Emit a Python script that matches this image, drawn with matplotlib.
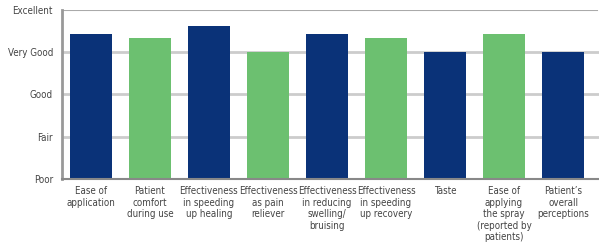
import matplotlib
matplotlib.use("Agg")
import matplotlib.pyplot as plt
from matplotlib import font_manager

categories = [
    "Ease of\napplication",
    "Patient\ncomfort\nduring use",
    "Effectiveness\nin speeding\nup healing",
    "Effectiveness\nas pain\nreliever",
    "Effectiveness\nin reducing\nswelling/\nbruising",
    "Effectiveness\nin speeding\nup recovery",
    "Taste",
    "Ease of\napplying\nthe spray\n(reported by\npatients)",
    "Patient\u2019s\noverall\nperceptions",
]
values = [3.43, 3.33, 3.62, 3.0, 3.43, 3.33, 3.0, 3.43, 3.0]
bar_colors = ["#0a3278", "#6cc070", "#0a3278", "#6cc070", "#0a3278",
              "#6cc070", "#0a3278", "#6cc070", "#0a3278"]
y_labels = ["Poor", "Fair", "Good", "Very Good", "Excellent"]

# pick a condensed font if one exists
fp = None
for f in font_manager.fontManager.ttflist:
    fn = f.fname.lower()
    if ("condensed" in fn or "narrow" in fn) and "bold" not in fn and "oblique" not in fn and "italic" not in fn:
        if "sans" in fn or "roboto" in fn:
            fp = font_manager.FontProperties(fname=f.fname)
            break
if fp is None:
    fp = font_manager.FontProperties(family=["Liberation Sans", "DejaVu Sans"])
    fsize = 6.5
else:
    fsize = 7
fp.set_size(fsize)

W, H = 599, 244
fig = plt.figure(figsize=(W / 100, H / 100), dpi=100)
ax = fig.add_axes([62 / W, (H - 179) / H, (599 - 62) / W, 169 / H])

x = list(range(len(categories)))
ax.bar(x, values, width=0.71, color=bar_colors, zorder=3)

ax.set_ylim(0, 4)
ax.set_xlim(-0.49, 8.61)
ax.set_yticks(range(5))
ax.set_yticklabels(y_labels, fontproperties=fp, color="#444444")
ax.set_xticks(x)
ax.set_xticklabels(categories, fontproperties=fp, color="#444444", linespacing=1.2)

for yv in [1, 2, 3]:
    ax.axhline(yv, color="#cccccc", lw=2, zorder=1)
ax.axhline(4, color="#aaaaaa", lw=1.5, zorder=1, xmax=0.996)

for s in ["top", "right"]:
    ax.spines[s].set_visible(False)
ax.spines["left"].set_color("#999999")
ax.spines["left"].set_linewidth(2)
ax.spines["bottom"].set_color("#888888")
ax.spines["bottom"].set_linewidth(1.5)
ax.spines["bottom"].set_zorder(4)

ax.tick_params(axis="both", length=0)
ax.tick_params(axis="y", pad=6.5)
ax.tick_params(axis="x", pad=5)

fig.savefig("out.png", dpi=100)
